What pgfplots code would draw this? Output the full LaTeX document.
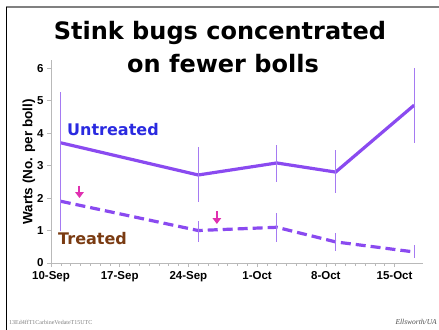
\documentclass[border=0pt]{standalone}
\usepackage{pgfplots}
\pgfplotsset{compat=1.18}
\usepackage{fontspec}
\setmainfont{Liberation Sans}
\newfontfamily\verd{DejaVu Sans}
\newfontfamily\tms{Liberation Serif}
\usetikzlibrary{arrows.meta}
\definecolor{linecol}{HTML}{8A4AF0}
\definecolor{errcol}{HTML}{A57AF2}
\definecolor{untcol}{HTML}{2A2AE0}
\definecolor{trtcol}{HTML}{7A3B12}
\definecolor{arrcol}{HTML}{E030B0}
\begin{document}
\begin{tikzpicture}
\path[use as bounding box] (0,0) rectangle (439bp,-330bp);
\draw[gray, line width=1.5bp] (6bp,-7bp) -- (439bp,-7bp);
\draw[black, line width=1bp] (6.5bp,-7bp) -- (6.5bp,-330bp);
\begin{axis}[
  at={(51bp,-263bp)}, anchor=south west,
  scale only axis, width=372bp, height=203bp,
  xmin=0, xmax=37.9, ymin=0, ymax=6.25,
  axis x line*=bottom, axis y line*=left,
  axis line style={draw=gray!55, line width=0.8bp},
  xtick={0,7,14,21,28,35},
  xticklabels={10-Sep,17-Sep,24-Sep,1-Oct,8-Oct,15-Oct},
  minor x tick num=6,
  ytick={0,1,2,3,4,5,6},
  tick style={draw=gray!55, line width=0.6bp},
  tick align=outside,
  major tick length=4bp, minor tick length=2.5bp,
  ticklabel style={font=\fontsize{11.5bp}{13bp}\selectfont\bfseries},
  /pgf/number format/assume math mode=true,
  xticklabel style={yshift=-1bp},
  clip=false,
]
\addplot[linecol, line width=3.2bp, error bars/.cd, y dir=both, y explicit,
  error mark=none, error bar style={errcol, line width=1bp, solid}]
  coordinates {
  (1,3.7) +- (0,1.55)
  (15,2.71) += (0,0.85) -= (0,0.83)
  (23,3.08) += (0,0.55) -= (0,0.58)
  (29,2.8) += (0,0.68) -= (0,0.65)
  (37,4.86) += (0,1.14) -= (0,1.16)
  };
\addplot[linecol, line width=3.2bp, dash pattern=on 10bp off 5bp, error bars/.cd, y dir=both, y explicit,
  error mark=none, error bar style={errcol, line width=1bp, solid}]
  coordinates {
  (1,1.9) +- (0,0.9)
  (15,1.0) += (0,0.3) -= (0,0.35)
  (23,1.1) +- (0,0.44)
  (29,0.65) +- (0,0.28)
  (37,0.34) +- (0,0.2)
  };
\addplot[arrcol, line width=2bp, -{Triangle[length=6bp,width=8.5bp]}]
  coordinates {(2.9,2.38) (2.9,2.0)};
\addplot[arrcol, line width=2bp, -{Triangle[length=6bp,width=8.5bp]}]
  coordinates {(16.9,1.6) (16.9,1.2)};
\end{axis}
\node[anchor=base, font=\verd\bfseries\fontsize{24bp}{28bp}\selectfont] at (220bp,-39bp) {Stink bugs concentrated};
\node[anchor=base, font=\verd\bfseries\fontsize{24bp}{28bp}\selectfont] at (223bp,-72bp) {on fewer bolls};
\node[rotate=90, font=\bfseries\fontsize{13.5bp}{15bp}\selectfont] at (29bp,-162bp) {Warts (No. per boll)};
\node[anchor=base west, inner sep=0pt, text=untcol, font=\verd\bfseries\fontsize{16bp}{19bp}\selectfont] at (67bp,-135bp) {Untreated};
\node[anchor=base west, inner sep=0pt, text=trtcol, font=\verd\bfseries\fontsize{16bp}{19bp}\selectfont] at (58bp,-244bp) {Treated};
\node[anchor=base west, inner sep=0pt, text=gray, font=\tms\fontsize{6bp}{7bp}\selectfont] at (9bp,-324bp) {13Ed4ffT1CarbineVedateT15UTC};
\node[anchor=base east, inner sep=0pt, text=black!70, font=\tms\itshape\fontsize{7.5bp}{9bp}\selectfont] at (437bp,-324bp) {Ellsworth/UA};
\end{tikzpicture}
\end{document}
